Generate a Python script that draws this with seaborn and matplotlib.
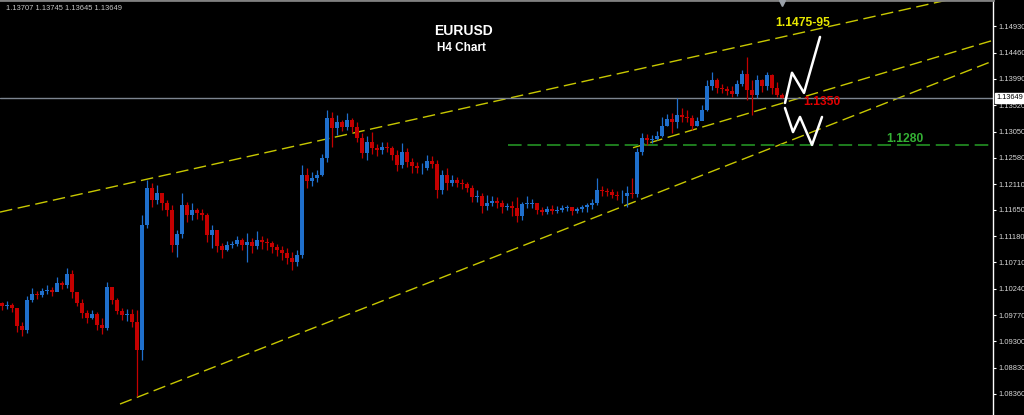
import numpy as np
import pandas as pd
import matplotlib
matplotlib.use("Agg")
import matplotlib.pyplot as plt
import matplotlib.transforms as mtransforms
import seaborn as sns

# EURUSD H4 bars (open = previous close)
first_open = 1.0998
closes = [1.0993, 1.0995, 1.0990, 1.0957, 1.0950, 1.1004, 1.1015, 1.1013, 1.1020, 1.1022,
          1.1018, 1.1035, 1.1031, 1.1051, 1.1018, 1.0999, 1.0981, 1.0972, 1.0979, 1.0959,
          1.0954, 1.1027, 1.1004, 1.0984, 1.0977, 1.0979, 1.0964, 1.0915, 1.1138, 1.1204,
          1.1183, 1.1195, 1.1178, 1.1165, 1.1102, 1.1122, 1.1174, 1.1156, 1.1165, 1.1160,
          1.1156, 1.1120, 1.1129, 1.1100, 1.1093, 1.1102, 1.1104, 1.1111, 1.1102, 1.1107,
          1.1100, 1.1111, 1.1107, 1.1106, 1.1098, 1.1093, 1.1088, 1.1079, 1.1071, 1.1084,
          1.1227, 1.1216, 1.1222, 1.1227, 1.1258, 1.1329, 1.1312, 1.1322, 1.1313, 1.1326,
          1.1313, 1.1294, 1.1267, 1.1286, 1.1276, 1.1272, 1.1277, 1.1276, 1.1263, 1.1245,
          1.1268, 1.1250, 1.1243, 1.1240, 1.1240, 1.1252, 1.1247, 1.1200, 1.1227, 1.1213,
          1.1218, 1.1213, 1.1211, 1.1204, 1.1188, 1.1189, 1.1172, 1.1178, 1.1181, 1.1178,
          1.1170, 1.1172, 1.1169, 1.1154, 1.1176, 1.1176, 1.1178, 1.1165, 1.1161, 1.1167,
          1.1163, 1.1165, 1.1169, 1.1170, 1.1163, 1.1167, 1.1170, 1.1174, 1.1178, 1.1200,
          1.1199, 1.1197, 1.1191, 1.1189, 1.1189, 1.1195, 1.1193, 1.1268, 1.1294, 1.1290,
          1.1292, 1.1297, 1.1315, 1.1327, 1.1322, 1.1335, 1.1331, 1.1329, 1.1315, 1.1324,
          1.1343, 1.1386, 1.1397, 1.1383, 1.1381, 1.1377, 1.1372, 1.1390, 1.1408, 1.1379,
          1.1370, 1.1397, 1.1386, 1.1406, 1.1383, 1.13707, 1.13649]
highs = [1.1000, 1.1002, 1.0999, 1.0982, 1.0964, 1.1011, 1.1026, 1.1020, 1.1026, 1.1031,
         1.1027, 1.1045, 1.1038, 1.1061, 1.1058, 1.1018, 1.1006, 1.0986, 1.0986, 1.0982,
         1.0972, 1.1036, 1.1022, 1.1008, 1.0990, 1.0988, 1.0988, 1.0986, 1.1156, 1.1218,
         1.1213, 1.1209, 1.1189, 1.1183, 1.1174, 1.1129, 1.1195, 1.1179, 1.1178, 1.1169,
         1.1167, 1.1160, 1.1138, 1.1120, 1.1106, 1.1109, 1.1109, 1.1118, 1.1115, 1.1124,
         1.1115, 1.1127, 1.1118, 1.1115, 1.1109, 1.1104, 1.1100, 1.1097, 1.1089, 1.1093,
         1.1245, 1.1240, 1.1232, 1.1236, 1.1265, 1.1343, 1.1340, 1.1335, 1.1326, 1.1338,
         1.1329, 1.1322, 1.1303, 1.1297, 1.1304, 1.1283, 1.1286, 1.1286, 1.1279, 1.1272,
         1.1284, 1.1276, 1.1258, 1.1250, 1.1249, 1.1263, 1.1261, 1.1254, 1.1236, 1.1240,
         1.1227, 1.1223, 1.1220, 1.1214, 1.1209, 1.1200, 1.1195, 1.1191, 1.1189, 1.1188,
         1.1183, 1.1178, 1.1181, 1.1188, 1.1179, 1.1189, 1.1184, 1.1178, 1.1170, 1.1172,
         1.1174, 1.1172, 1.1174, 1.1174, 1.1170, 1.1170, 1.1174, 1.1178, 1.1184, 1.1222,
         1.1207, 1.1204, 1.1202, 1.1199, 1.1200, 1.1207, 1.1222, 1.1276, 1.1303, 1.1301,
         1.1299, 1.1306, 1.1331, 1.1336, 1.1338, 1.1365, 1.1347, 1.1343, 1.1335, 1.1331,
         1.1352, 1.1397, 1.1411, 1.1401, 1.1390, 1.1386, 1.1386, 1.1397, 1.1415, 1.1438,
         1.1397, 1.1406, 1.1399, 1.1411, 1.1408, 1.1393, 1.13745]
lows = [1.0986, 1.0988, 1.0982, 1.0946, 1.0939, 1.0945, 1.1000, 1.1006, 1.1009, 1.1015,
        1.1011, 1.1020, 1.1024, 1.1026, 1.1008, 1.0993, 1.0972, 1.0963, 1.0970, 1.0950,
        1.0943, 1.0950, 1.0997, 1.0979, 1.0968, 1.0966, 1.0955, 1.0832, 1.0897, 1.1133,
        1.1170, 1.1176, 1.1165, 1.1154, 1.1089, 1.1080, 1.1115, 1.1143, 1.1147, 1.1149,
        1.1147, 1.1107, 1.1097, 1.1089, 1.1079, 1.1091, 1.1097, 1.1100, 1.1093, 1.1071,
        1.1088, 1.1095, 1.1095, 1.1093, 1.1088, 1.1082, 1.1075, 1.1068, 1.1058, 1.1064,
        1.1079, 1.1204, 1.1207, 1.1214, 1.1225, 1.1250, 1.1277, 1.1299, 1.1306, 1.1308,
        1.1304, 1.1286, 1.1258, 1.1254, 1.1265, 1.1261, 1.1265, 1.1268, 1.1254, 1.1234,
        1.1240, 1.1241, 1.1231, 1.1231, 1.1229, 1.1236, 1.1240, 1.1186, 1.1193, 1.1200,
        1.1207, 1.1206, 1.1202, 1.1197, 1.1179, 1.1179, 1.1160, 1.1165, 1.1172, 1.1169,
        1.1160, 1.1165, 1.1154, 1.1143, 1.1147, 1.1169, 1.1169, 1.1158, 1.1156, 1.1158,
        1.1158, 1.1160, 1.1161, 1.1163, 1.1156, 1.1160, 1.1161, 1.1161, 1.1167, 1.1174,
        1.1189, 1.1189, 1.1186, 1.1183, 1.1178, 1.1170, 1.1186, 1.1188, 1.1263, 1.1281,
        1.1284, 1.1290, 1.1295, 1.1315, 1.1303, 1.1312, 1.1322, 1.1322, 1.1308, 1.1315,
        1.1326, 1.1342, 1.1379, 1.1374, 1.1374, 1.1370, 1.1367, 1.1368, 1.1386, 1.1361,
        1.1335, 1.1365, 1.1376, 1.1379, 1.1372, 1.1367, 1.13645]

price_ticks = [1.14930, 1.14460, 1.13990, 1.13520, 1.13050, 1.12580, 1.12110, 1.11650,
               1.11180, 1.10710, 1.10240, 1.09770, 1.09300, 1.08830, 1.08360]
last_quote = ["1.13707", "1.13745", "1.13645", "1.13649"]
bid = 1.13649

# trendlines as (bar, price) anchor pairs
upper_channel = [(-0.4, 1.1161), (159.6, 1.1481)]
mid_support = [(126.2, 1.1276), (195.6, 1.1461)]
low_support = [(23.6, 1.0818), (195.6, 1.1422)]
support_level = 1.1280
support_from = 101.2

# projected paths (white zigzags)
path_up_bar = [156.6, 158.0, 160.4, 163.6]
path_up_price = [1.1356, 1.1410, 1.1374, 1.1474]
path_dn_bar = [156.6, 158.2, 159.6, 162.0, 164.0]
path_dn_price = [1.1347, 1.1304, 1.1331, 1.1281, 1.1331]

BLUE = "#1f6fcc"
RED = "#c40000"
YELLOW = "#c8c800"

sns.set_theme(style="dark", rc={"axes.facecolor": "black", "figure.facecolor": "black"})
plt.rcParams["font.family"] = ["Liberation Sans", "DejaVu Sans"]

df = pd.DataFrame({"close": closes, "high": highs, "low": lows})
df["open"] = [first_open] + closes[:-1]
df["bar"] = np.arange(len(df))
colors = np.where(df["close"] >= df["open"], BLUE, RED)

fig = plt.figure(figsize=(10.24, 4.15), dpi=100)
ax = fig.add_axes([0, 0, 993 / 1024, 1])
ax.set_xlim(-0.4, 198.2)
ax.set_ylim(1.07984, 1.15400)

# candles
ax.vlines(df["bar"], df["low"], df["high"], colors=colors, lw=0.9, zorder=3)
body = (df["close"] - df["open"]).abs().clip(lower=0.00006)
ax.bar(df["bar"], body, bottom=df[["open", "close"]].min(axis=1), width=0.7,
       color=colors, lw=0, zorder=3)

x_end = ax.get_xlim()[1]


def ray(points, **kw):
    (x0, y0), (x1, y1) = points
    slope = (y1 - y0) / (x1 - x0)
    ax.plot([x0, x_end], [y0, y0 + slope * (x_end - x0)], **kw)


dash = dict(color=YELLOW, lw=1.0, ls=(0, (9, 4)), zorder=2)
ray(upper_channel, **dash)
ray(mid_support, **dash)
ray(low_support, **dash)

ax.axhline(bid, color="#7d8590", lw=1.0, zorder=2)
ax.plot([support_from, x_end], [support_level, support_level], color="#1e7d1e",
        lw=1.4, ls=(0, (7, 3)), zorder=2)

sns.lineplot(x=path_up_bar, y=path_up_price, sort=False, estimator=None,
             color="white", lw=1.8, ax=ax, zorder=4)
sns.lineplot(x=path_dn_bar, y=path_dn_price, sort=False, estimator=None,
             color="white", lw=1.8, ax=ax, zorder=4)

# level labels
ax.text(160.2, 1.1499, "1.1475-95", color="#e8e800", fontsize=8.7, fontweight="bold",
        ha="center", va="center")
ax.text(164.0, 1.1358, "1.1350", color="#e00000", fontsize=8.7, fontweight="bold",
        ha="center", va="center", zorder=5)
ax.text(180.6, 1.12925, "1.1280", color="#34b034", fontsize=8.7, fontweight="bold",
        ha="center", va="center")

ax.text(0.467, 0.925, "EURUSD", transform=ax.transAxes, color="white", fontsize=10,
        fontweight="bold", ha="center", va="center")
ax.text(0.465, 0.884, "H4 Chart", transform=ax.transAxes, color="white", fontsize=8.5,
        fontweight="bold", ha="center", va="center")
fig.text(6 / 1024, 1 - 8 / 415, " ".join(last_quote), color="#c8c8c8", fontsize=5.4,
         ha="left", va="center")

# price scale on the right
ax.grid(False)
ax.set_xticks([])
ax.yaxis.tick_right()
ax.set_yticks(price_ticks)
ax.set_yticklabels([f"{t:.5f}" for t in price_ticks])
ax.tick_params(axis="y", colors="white", length=2.5, width=0.8, pad=1.2,
               labelsize=5.4, labelcolor="#d8d8d8")
for side in ["left", "bottom"]:
    ax.spines[side].set_visible(False)
ax.spines["right"].set_color("white")
ax.spines["right"].set_linewidth(1.0)
ax.spines["top"].set_color("#808080")
ax.spines["top"].set_linewidth(2.0)

trans = mtransforms.blended_transform_factory(ax.transAxes, ax.transData)
ax.text(1.003, bid, f"{bid:.5f}", transform=trans, color="black", fontsize=5.3,
        ha="left", va="center", zorder=6,
        bbox=dict(boxstyle="square,pad=0.2", fc="white", ec="white"))
ax.plot([df["bar"].iloc[-1]], [0.992], marker="v", ms=4, color="#9aa0a8",
        transform=mtransforms.blended_transform_factory(ax.transData, ax.transAxes),
        clip_on=False, zorder=6)

fig.savefig("out.png", dpi=100, facecolor="black")
